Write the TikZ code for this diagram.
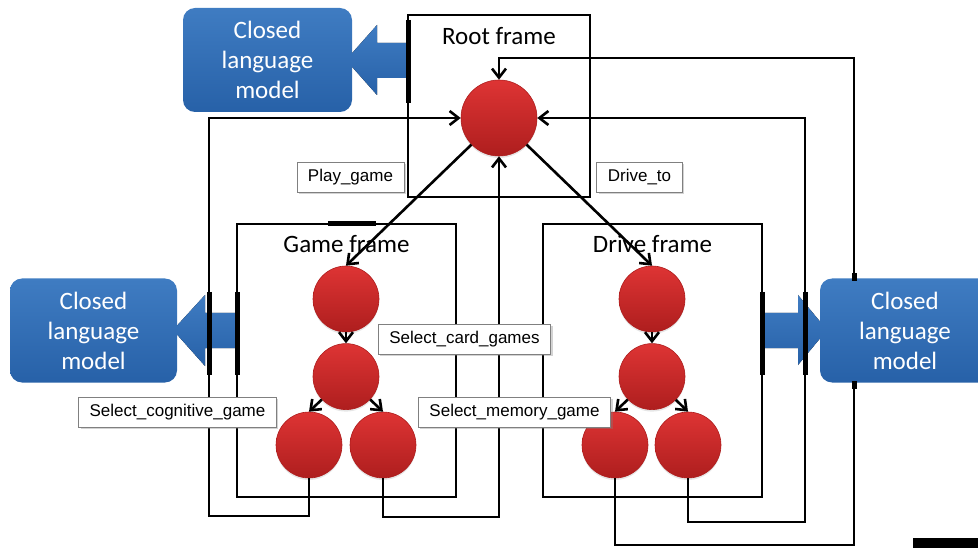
\documentclass[tikz,border=0pt]{standalone}
\usepackage{fontspec}
\setmainfont{Carlito}
\newfontfamily\tagfont{Liberation Sans}
\usepackage{tikz}
\usetikzlibrary{arrows.meta,positioning,shadows}
\definecolor{balltop}{HTML}{DE3434}
\definecolor{balldark}{HTML}{AE1E1E}
\definecolor{lmtop}{HTML}{3F7CC2}
\definecolor{lmdark}{HTML}{2761A8}
\definecolor{tagline}{HTML}{808080}

\begin{document}
\begin{tikzpicture}[x=1pt,y=-1pt, every node/.style={font=\fontsize{25}{30}\selectfont},
 frame/.style={draw,line width=2.8pt,inner sep=0pt},
 ball/.style={circle,minimum size=66pt,inner sep=0pt,top color=balltop,bottom color=balldark,draw=balldark,line width=0.6pt,drop shadow={shadow xshift=0pt,shadow yshift=-2pt,opacity=0.2}},
 lmbox/.style={rounded corners=12pt,minimum width=169pt,minimum height=104pt,top color=lmtop,bottom color=lmdark,text=white,align=center},
 lmarrow/.style={top color=lmtop,bottom color=lmdark},
 tag/.style={draw=tagline,fill=white,line width=0.8pt,minimum height=30pt,inner xsep=11pt,font=\tagfont\fontsize{17}{20}\selectfont,drop shadow={shadow xshift=2pt,shadow yshift=-2pt,opacity=0.35}},
 link/.style={line width=2.6pt,-{Straight Barb[length=9pt,width=14pt]}},
 seam/.style={line width=5pt}]
\useasboundingbox (0,0) rectangle (978,548);
% frames
\node[frame,minimum width=182pt,minimum height=182pt] (rootf) at (499,106) {};
\node[frame,minimum width=219pt,minimum height=273pt] (gamef) at (346.5,360.5) {};
\node[frame,minimum width=219pt,minimum height=273pt] (drivef) at (652.5,360.5) {};
\node[anchor=base] at ([yshift=-31pt]rootf.north) {Root frame};
\node[anchor=base] at ([yshift=-30pt]gamef.north) {Game frame};
\node[anchor=base] at ([yshift=-30pt]drivef.north) {Drive frame};
% return wires
\coordinate (gl) at (209,516); \coordinate (gr) at (499,517);
\coordinate (dl) at (854,545); \coordinate (dt) at (854,58); \coordinate (dr) at (805,522);
% states
\node[ball,minimum size=76pt] (r0) at (499,118) {};
\node[ball] (g1) at (346,299) {};
\node[ball,below=11pt of g1] (g2) {};
\node[ball] (g3) at (309,445) {};
\node[ball] (g4) at (383,445) {};
\node[ball] (d1) at (652,299) {};
\node[ball,below=11pt of d1] (d2) {};
\node[ball] (d3) at (615,445) {};
\node[ball] (d4) at (688,445) {};
\draw[link] (g3.south) |- (gl) |- (r0.west);
\draw[link] (g4.south) |- (gr) -- (r0.south);
\draw[link] (d3.south) |- (dl) -- (dt) -| (r0.north);
\draw[link] (d4.south) |- (dr) |- (r0.east);
\draw[link] (r0) -- (g1.north); \draw[link] (r0) -- (d1.north);
\draw[link] (g1) -- (g2); \draw[link] (g2) -- (g3.north); \draw[link] (g2) -- (g4.north);
\draw[link] (d1) -- (d2); \draw[link] (d2) -- (d3.north); \draw[link] (d2) -- (d4.north);
% closed language models
\fill[lmarrow] (408,43) -- (377,43) -- (377,25) -- (346,60) -- (377,95) -- (377,78) -- (408,78) -- cycle;
\fill[lmarrow] (237,313) -- (205,313) -- (205,295) -- (173,330) -- (205,366) -- (205,348) -- (237,348) -- cycle;
\fill[lmarrow] (762,313) -- (798,313) -- (798,295) -- (827,330) -- (798,365) -- (798,348) -- (762,348) -- cycle;
\node[lmbox] (lmroot) at (267.5,60) {Closed\\language\\model};
\node[lmbox,minimum width=167pt] (lmgame) at (93.5,330.5) {Closed\\language\\model};
\node[lmbox,minimum width=170pt] (lmdrive) at (905,330.5) {Closed\\language\\model};
\draw[seam] (408,20) -- (408,103); \draw[seam] (328,224) -- (376,224);
\draw[seam] (209,292) -- (209,375); \draw[seam] (237,292) -- (237,375);
\draw[seam] (762,292) -- (762,375); \draw[seam] (805,292) -- (805,375);
\draw[seam] (854,273) -- (854,281); \draw[seam] (854,381) -- (854,389);
% transition labels
\node[tag] (play) at (350.5,177) {Play\_game};
\node[tag] (drive) at (639.5,177) {Drive\_to};
\node[tag] (card) at (464.5,339) {Select\_card\_games};
\node[tag] (cogn) at (177.5,412) {Select\_cognitive\_game};
\node[tag] (memo) at (514.5,412) {Select\_memory\_game};
\fill (913,538) rectangle (978,548);
\end{tikzpicture}
\end{document}
